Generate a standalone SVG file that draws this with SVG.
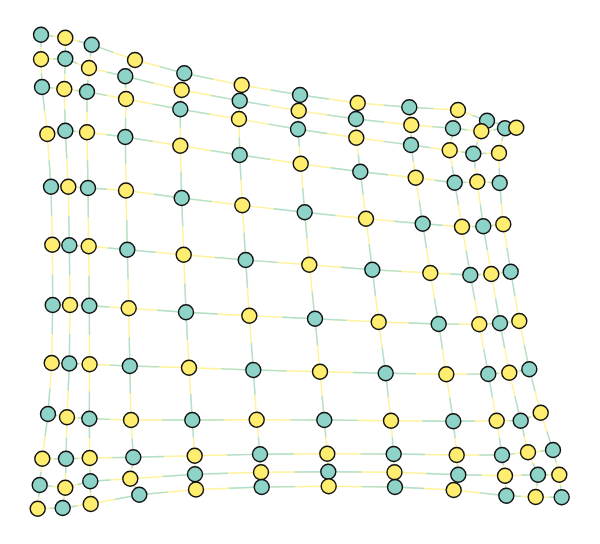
<svg xmlns="http://www.w3.org/2000/svg" width="600" height="544" viewBox="0 0 600 544">
<style>
.ey{fill:none;stroke:#fff29a;stroke-width:1.4;stroke-linejoin:round}
.et path{fill:none;stroke:#afe0d6;stroke-width:1.4;stroke-dasharray:1 1}
.t{fill:#8dd3c7;stroke:#111;stroke-width:1.4}
.y{fill:#ffed6f;stroke:#111;stroke-width:1.4}
</style>
<rect width="600" height="544" fill="#fff"/>
<g id="connectors">
<g id="base">
<polyline class="ey" points="41,34.7 65.3,37.7 91.7,44.7 135,60 184.3,73.3 241.7,85 300,95 357.7,103 409.3,107.3 458,110 487,120.7 516.3,127.7"/>
<polyline class="ey" points="41,59.3 65.3,58.7 89,68 125.3,76.3 181.7,90 239.7,100.7 298.7,110.7 356,119 411.3,125 453,128.3 481.3,131.3 505,128.3"/>
<polyline class="ey" points="42,87 64.3,89 87,91.7 126,99 180.3,109.3 239,119 298,129.3 356.3,137.7 411,145 449.7,150.3 473.3,153.7 499,153"/>
<polyline class="ey" points="47.3,134 65.3,130.7 87,132.3 125.3,137 180.3,145.7 239.7,155 300.7,163.7 360.3,171.7 415.7,177.7 454.7,182.7 477.3,181.7 499.7,183"/>
<polyline class="ey" points="51,186.7 68.3,186.7 88,188 126,190.5 181.7,198 242.3,205.3 304.7,212.3 366,218.7 422.7,223.7 462,226.7 483.3,226.3 503.3,224.3"/>
<polyline class="ey" points="52.3,244.7 69.3,245.3 88.7,246.3 127.3,249.7 183.7,254.7 245.7,260 309.3,264.7 372.3,269.7 430.3,273 470.3,275 491.3,274 510.7,271.7"/>
<polyline class="ey" points="52.7,305 70,305 89.3,305.7 128.7,308.3 186,312.3 249.3,315.7 315,318.7 378.7,322 438.7,324 479.3,324.3 500,323.3 519.3,321"/>
<polyline class="ey" points="51.7,363 69.3,363.5 89.6,364.3 129.8,366 189,367.8 253.3,370 320,371.7 385.7,373.3 446.3,374.3 488.3,374 509.3,372.7 529.3,369.3"/>
<polyline class="ey" points="48,414 67,417.3 89.3,418.7 131,420 192.3,420 256.7,419.7 324.3,420 391,420.7 453.3,421.3 496.7,420.7 520.7,420.7 540.7,412.7"/>
<polyline class="ey" points="42.3,458.7 66,458.7 89.7,458 133.3,457.3 194.7,455.7 260,454.3 327.3,453.7 393.7,454 456.7,455 502,455 528,452.3 553,450"/>
<polyline class="ey" points="39.7,485 65.3,487.7 90.3,481.3 130.3,478.7 195,474.3 261,472.3 328.3,471.7 394.5,472.2 458.3,474.7 505,475.7 538,474.7 559.3,474.7"/>
<polyline class="ey" points="37.7,508.7 62.7,508 90.7,504 139.3,494.7 196,489.5 261.7,487 328.7,486.3 395,487 453.7,490 506.3,495.7 535.7,497 561.7,497.3"/>
<polyline class="ey" points="41,34.7 41,59.3 42,87 47.3,134 51,186.7 52.3,244.7 52.7,305 51.7,363 48,414 42.3,458.7 39.7,485 37.7,508.7"/>
<polyline class="ey" points="65.3,37.7 65.3,58.7 64.3,89 65.3,130.7 68.3,186.7 69.3,245.3 70,305 69.3,363.5 67,417.3 66,458.7 65.3,487.7 62.7,508"/>
<polyline class="ey" points="91.7,44.7 89,68 87,91.7 87,132.3 88,188 88.7,246.3 89.3,305.7 89.6,364.3 89.3,418.7 89.7,458 90.3,481.3 90.7,504"/>
<polyline class="ey" points="135,60 125.3,76.3 126,99 125.3,137 126,190.5 127.3,249.7 128.7,308.3 129.8,366 131,420 133.3,457.3 130.3,478.7 139.3,494.7"/>
<polyline class="ey" points="184.3,73.3 181.7,90 180.3,109.3 180.3,145.7 181.7,198 183.7,254.7 186,312.3 189,367.8 192.3,420 194.7,455.7 195,474.3 196,489.5"/>
<polyline class="ey" points="241.7,85 239.7,100.7 239,119 239.7,155 242.3,205.3 245.7,260 249.3,315.7 253.3,370 256.7,419.7 260,454.3 261,472.3 261.7,487"/>
<polyline class="ey" points="300,95 298.7,110.7 298,129.3 300.7,163.7 304.7,212.3 309.3,264.7 315,318.7 320,371.7 324.3,420 327.3,453.7 328.3,471.7 328.7,486.3"/>
<polyline class="ey" points="357.7,103 356,119 356.3,137.7 360.3,171.7 366,218.7 372.3,269.7 378.7,322 385.7,373.3 391,420.7 393.7,454 394.5,472.2 395,487"/>
<polyline class="ey" points="409.3,107.3 411.3,125 411,145 415.7,177.7 422.7,223.7 430.3,273 438.7,324 446.3,374.3 453.3,421.3 456.7,455 458.3,474.7 453.7,490"/>
<polyline class="ey" points="458,110 453,128.3 449.7,150.3 454.7,182.7 462,226.7 470.3,275 479.3,324.3 488.3,374 496.7,420.7 502,455 505,475.7 506.3,495.7"/>
<polyline class="ey" points="487,120.7 481.3,131.3 473.3,153.7 477.3,181.7 483.3,226.3 491.3,274 500,323.3 509.3,372.7 520.7,420.7 528,452.3 538,474.7 535.7,497"/>
<polyline class="ey" points="516.3,127.7 505,128.3 499,153 499.7,183 503.3,224.3 510.7,271.7 519.3,321 529.3,369.3 540.7,412.7 553,450 559.3,474.7 561.7,497.3"/>
</g>
<g class="et" id="teal-halves">
<path pathLength="2" d="M41 34.7L65.3 37.7"/><path pathLength="2" d="M91.7 44.7L65.3 37.7"/><path pathLength="2" d="M91.7 44.7L135 60"/><path pathLength="2" d="M184.3 73.3L135 60"/><path pathLength="2" d="M184.3 73.3L241.7 85"/><path pathLength="2" d="M300 95L241.7 85"/><path pathLength="2" d="M300 95L357.7 103"/><path pathLength="2" d="M409.3 107.3L357.7 103"/><path pathLength="2" d="M409.3 107.3L458 110"/><path pathLength="2" d="M487 120.7L458 110"/><path pathLength="2" d="M487 120.7L516.3 127.7"/>
<path pathLength="2" d="M65.3 58.7L41 59.3"/><path pathLength="2" d="M65.3 58.7L89 68"/><path pathLength="2" d="M125.3 76.3L89 68"/><path pathLength="2" d="M125.3 76.3L181.7 90"/><path pathLength="2" d="M239.7 100.7L181.7 90"/><path pathLength="2" d="M239.7 100.7L298.7 110.7"/><path pathLength="2" d="M356 119L298.7 110.7"/><path pathLength="2" d="M356 119L411.3 125"/><path pathLength="2" d="M453 128.3L411.3 125"/><path pathLength="2" d="M453 128.3L481.3 131.3"/><path pathLength="2" d="M505 128.3L481.3 131.3"/>
<path pathLength="2" d="M42 87L64.3 89"/><path pathLength="2" d="M87 91.7L64.3 89"/><path pathLength="2" d="M87 91.7L126 99"/><path pathLength="2" d="M180.3 109.3L126 99"/><path pathLength="2" d="M180.3 109.3L239 119"/><path pathLength="2" d="M298 129.3L239 119"/><path pathLength="2" d="M298 129.3L356.3 137.7"/><path pathLength="2" d="M411 145L356.3 137.7"/><path pathLength="2" d="M411 145L449.7 150.3"/><path pathLength="2" d="M473.3 153.7L449.7 150.3"/><path pathLength="2" d="M473.3 153.7L499 153"/>
<path pathLength="2" d="M65.3 130.7L47.3 134"/><path pathLength="2" d="M65.3 130.7L87 132.3"/><path pathLength="2" d="M125.3 137L87 132.3"/><path pathLength="2" d="M125.3 137L180.3 145.7"/><path pathLength="2" d="M239.7 155L180.3 145.7"/><path pathLength="2" d="M239.7 155L300.7 163.7"/><path pathLength="2" d="M360.3 171.7L300.7 163.7"/><path pathLength="2" d="M360.3 171.7L415.7 177.7"/><path pathLength="2" d="M454.7 182.7L415.7 177.7"/><path pathLength="2" d="M454.7 182.7L477.3 181.7"/><path pathLength="2" d="M499.7 183L477.3 181.7"/>
<path pathLength="2" d="M51 186.7L68.3 186.7"/><path pathLength="2" d="M88 188L68.3 186.7"/><path pathLength="2" d="M88 188L126 190.5"/><path pathLength="2" d="M181.7 198L126 190.5"/><path pathLength="2" d="M181.7 198L242.3 205.3"/><path pathLength="2" d="M304.7 212.3L242.3 205.3"/><path pathLength="2" d="M304.7 212.3L366 218.7"/><path pathLength="2" d="M422.7 223.7L366 218.7"/><path pathLength="2" d="M422.7 223.7L462 226.7"/><path pathLength="2" d="M483.3 226.3L462 226.7"/><path pathLength="2" d="M483.3 226.3L503.3 224.3"/>
<path pathLength="2" d="M69.3 245.3L52.3 244.7"/><path pathLength="2" d="M69.3 245.3L88.7 246.3"/><path pathLength="2" d="M127.3 249.7L88.7 246.3"/><path pathLength="2" d="M127.3 249.7L183.7 254.7"/><path pathLength="2" d="M245.7 260L183.7 254.7"/><path pathLength="2" d="M245.7 260L309.3 264.7"/><path pathLength="2" d="M372.3 269.7L309.3 264.7"/><path pathLength="2" d="M372.3 269.7L430.3 273"/><path pathLength="2" d="M470.3 275L430.3 273"/><path pathLength="2" d="M470.3 275L491.3 274"/><path pathLength="2" d="M510.7 271.7L491.3 274"/>
<path pathLength="2" d="M52.7 305L70 305"/><path pathLength="2" d="M89.3 305.7L70 305"/><path pathLength="2" d="M89.3 305.7L128.7 308.3"/><path pathLength="2" d="M186 312.3L128.7 308.3"/><path pathLength="2" d="M186 312.3L249.3 315.7"/><path pathLength="2" d="M315 318.7L249.3 315.7"/><path pathLength="2" d="M315 318.7L378.7 322"/><path pathLength="2" d="M438.7 324L378.7 322"/><path pathLength="2" d="M438.7 324L479.3 324.3"/><path pathLength="2" d="M500 323.3L479.3 324.3"/><path pathLength="2" d="M500 323.3L519.3 321"/>
<path pathLength="2" d="M69.3 363.5L51.7 363"/><path pathLength="2" d="M69.3 363.5L89.6 364.3"/><path pathLength="2" d="M129.8 366L89.6 364.3"/><path pathLength="2" d="M129.8 366L189 367.8"/><path pathLength="2" d="M253.3 370L189 367.8"/><path pathLength="2" d="M253.3 370L320 371.7"/><path pathLength="2" d="M385.7 373.3L320 371.7"/><path pathLength="2" d="M385.7 373.3L446.3 374.3"/><path pathLength="2" d="M488.3 374L446.3 374.3"/><path pathLength="2" d="M488.3 374L509.3 372.7"/><path pathLength="2" d="M529.3 369.3L509.3 372.7"/>
<path pathLength="2" d="M48 414L67 417.3"/><path pathLength="2" d="M89.3 418.7L67 417.3"/><path pathLength="2" d="M89.3 418.7L131 420"/><path pathLength="2" d="M192.3 420L131 420"/><path pathLength="2" d="M192.3 420L256.7 419.7"/><path pathLength="2" d="M324.3 420L256.7 419.7"/><path pathLength="2" d="M324.3 420L391 420.7"/><path pathLength="2" d="M453.3 421.3L391 420.7"/><path pathLength="2" d="M453.3 421.3L496.7 420.7"/><path pathLength="2" d="M520.7 420.7L496.7 420.7"/><path pathLength="2" d="M520.7 420.7L540.7 412.7"/>
<path pathLength="2" d="M66 458.7L42.3 458.7"/><path pathLength="2" d="M66 458.7L89.7 458"/><path pathLength="2" d="M133.3 457.3L89.7 458"/><path pathLength="2" d="M133.3 457.3L194.7 455.7"/><path pathLength="2" d="M260 454.3L194.7 455.7"/><path pathLength="2" d="M260 454.3L327.3 453.7"/><path pathLength="2" d="M393.7 454L327.3 453.7"/><path pathLength="2" d="M393.7 454L456.7 455"/><path pathLength="2" d="M502 455L456.7 455"/><path pathLength="2" d="M502 455L528 452.3"/><path pathLength="2" d="M553 450L528 452.3"/>
<path pathLength="2" d="M39.7 485L65.3 487.7"/><path pathLength="2" d="M90.3 481.3L65.3 487.7"/><path pathLength="2" d="M90.3 481.3L130.3 478.7"/><path pathLength="2" d="M195 474.3L130.3 478.7"/><path pathLength="2" d="M195 474.3L261 472.3"/><path pathLength="2" d="M328.3 471.7L261 472.3"/><path pathLength="2" d="M328.3 471.7L394.5 472.2"/><path pathLength="2" d="M458.3 474.7L394.5 472.2"/><path pathLength="2" d="M458.3 474.7L505 475.7"/><path pathLength="2" d="M538 474.7L505 475.7"/><path pathLength="2" d="M538 474.7L559.3 474.7"/>
<path pathLength="2" d="M62.7 508L37.7 508.7"/><path pathLength="2" d="M62.7 508L90.7 504"/><path pathLength="2" d="M139.3 494.7L90.7 504"/><path pathLength="2" d="M139.3 494.7L196 489.5"/><path pathLength="2" d="M261.7 487L196 489.5"/><path pathLength="2" d="M261.7 487L328.7 486.3"/><path pathLength="2" d="M395 487L328.7 486.3"/><path pathLength="2" d="M395 487L453.7 490"/><path pathLength="2" d="M506.3 495.7L453.7 490"/><path pathLength="2" d="M506.3 495.7L535.7 497"/><path pathLength="2" d="M561.7 497.3L535.7 497"/>
<path pathLength="2" d="M41 34.7L41 59.3"/><path pathLength="2" d="M42 87L41 59.3"/><path pathLength="2" d="M42 87L47.3 134"/><path pathLength="2" d="M51 186.7L47.3 134"/><path pathLength="2" d="M51 186.7L52.3 244.7"/><path pathLength="2" d="M52.7 305L52.3 244.7"/><path pathLength="2" d="M52.7 305L51.7 363"/><path pathLength="2" d="M48 414L51.7 363"/><path pathLength="2" d="M48 414L42.3 458.7"/><path pathLength="2" d="M39.7 485L42.3 458.7"/><path pathLength="2" d="M39.7 485L37.7 508.7"/>
<path pathLength="2" d="M65.3 58.7L65.3 37.7"/><path pathLength="2" d="M65.3 58.7L64.3 89"/><path pathLength="2" d="M65.3 130.7L64.3 89"/><path pathLength="2" d="M65.3 130.7L68.3 186.7"/><path pathLength="2" d="M69.3 245.3L68.3 186.7"/><path pathLength="2" d="M69.3 245.3L70 305"/><path pathLength="2" d="M69.3 363.5L70 305"/><path pathLength="2" d="M69.3 363.5L67 417.3"/><path pathLength="2" d="M66 458.7L67 417.3"/><path pathLength="2" d="M66 458.7L65.3 487.7"/><path pathLength="2" d="M62.7 508L65.3 487.7"/>
<path pathLength="2" d="M91.7 44.7L89 68"/><path pathLength="2" d="M87 91.7L89 68"/><path pathLength="2" d="M87 91.7L87 132.3"/><path pathLength="2" d="M88 188L87 132.3"/><path pathLength="2" d="M88 188L88.7 246.3"/><path pathLength="2" d="M89.3 305.7L88.7 246.3"/><path pathLength="2" d="M89.3 305.7L89.6 364.3"/><path pathLength="2" d="M89.3 418.7L89.6 364.3"/><path pathLength="2" d="M89.3 418.7L89.7 458"/><path pathLength="2" d="M90.3 481.3L89.7 458"/><path pathLength="2" d="M90.3 481.3L90.7 504"/>
<path pathLength="2" d="M125.3 76.3L135 60"/><path pathLength="2" d="M125.3 76.3L126 99"/><path pathLength="2" d="M125.3 137L126 99"/><path pathLength="2" d="M125.3 137L126 190.5"/><path pathLength="2" d="M127.3 249.7L126 190.5"/><path pathLength="2" d="M127.3 249.7L128.7 308.3"/><path pathLength="2" d="M129.8 366L128.7 308.3"/><path pathLength="2" d="M129.8 366L131 420"/><path pathLength="2" d="M133.3 457.3L131 420"/><path pathLength="2" d="M133.3 457.3L130.3 478.7"/><path pathLength="2" d="M139.3 494.7L130.3 478.7"/>
<path pathLength="2" d="M184.3 73.3L181.7 90"/><path pathLength="2" d="M180.3 109.3L181.7 90"/><path pathLength="2" d="M180.3 109.3L180.3 145.7"/><path pathLength="2" d="M181.7 198L180.3 145.7"/><path pathLength="2" d="M181.7 198L183.7 254.7"/><path pathLength="2" d="M186 312.3L183.7 254.7"/><path pathLength="2" d="M186 312.3L189 367.8"/><path pathLength="2" d="M192.3 420L189 367.8"/><path pathLength="2" d="M192.3 420L194.7 455.7"/><path pathLength="2" d="M195 474.3L194.7 455.7"/><path pathLength="2" d="M195 474.3L196 489.5"/>
<path pathLength="2" d="M239.7 100.7L241.7 85"/><path pathLength="2" d="M239.7 100.7L239 119"/><path pathLength="2" d="M239.7 155L239 119"/><path pathLength="2" d="M239.7 155L242.3 205.3"/><path pathLength="2" d="M245.7 260L242.3 205.3"/><path pathLength="2" d="M245.7 260L249.3 315.7"/><path pathLength="2" d="M253.3 370L249.3 315.7"/><path pathLength="2" d="M253.3 370L256.7 419.7"/><path pathLength="2" d="M260 454.3L256.7 419.7"/><path pathLength="2" d="M260 454.3L261 472.3"/><path pathLength="2" d="M261.7 487L261 472.3"/>
<path pathLength="2" d="M300 95L298.7 110.7"/><path pathLength="2" d="M298 129.3L298.7 110.7"/><path pathLength="2" d="M298 129.3L300.7 163.7"/><path pathLength="2" d="M304.7 212.3L300.7 163.7"/><path pathLength="2" d="M304.7 212.3L309.3 264.7"/><path pathLength="2" d="M315 318.7L309.3 264.7"/><path pathLength="2" d="M315 318.7L320 371.7"/><path pathLength="2" d="M324.3 420L320 371.7"/><path pathLength="2" d="M324.3 420L327.3 453.7"/><path pathLength="2" d="M328.3 471.7L327.3 453.7"/><path pathLength="2" d="M328.3 471.7L328.7 486.3"/>
<path pathLength="2" d="M356 119L357.7 103"/><path pathLength="2" d="M356 119L356.3 137.7"/><path pathLength="2" d="M360.3 171.7L356.3 137.7"/><path pathLength="2" d="M360.3 171.7L366 218.7"/><path pathLength="2" d="M372.3 269.7L366 218.7"/><path pathLength="2" d="M372.3 269.7L378.7 322"/><path pathLength="2" d="M385.7 373.3L378.7 322"/><path pathLength="2" d="M385.7 373.3L391 420.7"/><path pathLength="2" d="M393.7 454L391 420.7"/><path pathLength="2" d="M393.7 454L394.5 472.2"/><path pathLength="2" d="M395 487L394.5 472.2"/>
<path pathLength="2" d="M409.3 107.3L411.3 125"/><path pathLength="2" d="M411 145L411.3 125"/><path pathLength="2" d="M411 145L415.7 177.7"/><path pathLength="2" d="M422.7 223.7L415.7 177.7"/><path pathLength="2" d="M422.7 223.7L430.3 273"/><path pathLength="2" d="M438.7 324L430.3 273"/><path pathLength="2" d="M438.7 324L446.3 374.3"/><path pathLength="2" d="M453.3 421.3L446.3 374.3"/><path pathLength="2" d="M453.3 421.3L456.7 455"/><path pathLength="2" d="M458.3 474.7L456.7 455"/><path pathLength="2" d="M458.3 474.7L453.7 490"/>
<path pathLength="2" d="M453 128.3L458 110"/><path pathLength="2" d="M453 128.3L449.7 150.3"/><path pathLength="2" d="M454.7 182.7L449.7 150.3"/><path pathLength="2" d="M454.7 182.7L462 226.7"/><path pathLength="2" d="M470.3 275L462 226.7"/><path pathLength="2" d="M470.3 275L479.3 324.3"/><path pathLength="2" d="M488.3 374L479.3 324.3"/><path pathLength="2" d="M488.3 374L496.7 420.7"/><path pathLength="2" d="M502 455L496.7 420.7"/><path pathLength="2" d="M502 455L505 475.7"/><path pathLength="2" d="M506.3 495.7L505 475.7"/>
<path pathLength="2" d="M487 120.7L481.3 131.3"/><path pathLength="2" d="M473.3 153.7L481.3 131.3"/><path pathLength="2" d="M473.3 153.7L477.3 181.7"/><path pathLength="2" d="M483.3 226.3L477.3 181.7"/><path pathLength="2" d="M483.3 226.3L491.3 274"/><path pathLength="2" d="M500 323.3L491.3 274"/><path pathLength="2" d="M500 323.3L509.3 372.7"/><path pathLength="2" d="M520.7 420.7L509.3 372.7"/><path pathLength="2" d="M520.7 420.7L528 452.3"/><path pathLength="2" d="M538 474.7L528 452.3"/><path pathLength="2" d="M538 474.7L535.7 497"/>
<path pathLength="2" d="M505 128.3L516.3 127.7"/><path pathLength="2" d="M505 128.3L499 153"/><path pathLength="2" d="M499.7 183L499 153"/><path pathLength="2" d="M499.7 183L503.3 224.3"/><path pathLength="2" d="M510.7 271.7L503.3 224.3"/><path pathLength="2" d="M510.7 271.7L519.3 321"/><path pathLength="2" d="M529.3 369.3L519.3 321"/><path pathLength="2" d="M529.3 369.3L540.7 412.7"/><path pathLength="2" d="M553 450L540.7 412.7"/><path pathLength="2" d="M553 450L559.3 474.7"/><path pathLength="2" d="M561.7 497.3L559.3 474.7"/>
</g>
</g>
<g id="nodes">
<g id="n1_1"><circle class="t" cx="41" cy="34.7" r="7.5"/></g><g id="n1_2"><circle class="y" cx="65.3" cy="37.7" r="7.5"/></g><g id="n1_3"><circle class="t" cx="91.7" cy="44.7" r="7.5"/></g><g id="n1_4"><circle class="y" cx="135" cy="60" r="7.5"/></g><g id="n1_5"><circle class="t" cx="184.3" cy="73.3" r="7.5"/></g><g id="n1_6"><circle class="y" cx="241.7" cy="85" r="7.5"/></g><g id="n1_7"><circle class="t" cx="300" cy="95" r="7.5"/></g><g id="n1_8"><circle class="y" cx="357.7" cy="103" r="7.5"/></g><g id="n1_9"><circle class="t" cx="409.3" cy="107.3" r="7.5"/></g><g id="n1_10"><circle class="y" cx="458" cy="110" r="7.5"/></g><g id="n1_11"><circle class="t" cx="487" cy="120.7" r="7.5"/></g><g id="n2_12"><circle class="t" cx="505" cy="128.3" r="7.5"/></g><g id="n1_12"><circle class="y" cx="516.3" cy="127.7" r="7.5"/></g>
<g id="n2_1"><circle class="y" cx="41" cy="59.3" r="7.5"/></g><g id="n2_2"><circle class="t" cx="65.3" cy="58.7" r="7.5"/></g><g id="n2_3"><circle class="y" cx="89" cy="68" r="7.5"/></g><g id="n2_4"><circle class="t" cx="125.3" cy="76.3" r="7.5"/></g><g id="n2_5"><circle class="y" cx="181.7" cy="90" r="7.5"/></g><g id="n2_6"><circle class="t" cx="239.7" cy="100.7" r="7.5"/></g><g id="n2_7"><circle class="y" cx="298.7" cy="110.7" r="7.5"/></g><g id="n2_8"><circle class="t" cx="356" cy="119" r="7.5"/></g><g id="n2_9"><circle class="y" cx="411.3" cy="125" r="7.5"/></g><g id="n2_10"><circle class="t" cx="453" cy="128.3" r="7.5"/></g><g id="n2_11"><circle class="y" cx="481.3" cy="131.3" r="7.5"/></g>
<g id="n3_1"><circle class="t" cx="42" cy="87" r="7.5"/></g><g id="n3_2"><circle class="y" cx="64.3" cy="89" r="7.5"/></g><g id="n3_3"><circle class="t" cx="87" cy="91.7" r="7.5"/></g><g id="n3_4"><circle class="y" cx="126" cy="99" r="7.5"/></g><g id="n3_5"><circle class="t" cx="180.3" cy="109.3" r="7.5"/></g><g id="n3_6"><circle class="y" cx="239" cy="119" r="7.5"/></g><g id="n3_7"><circle class="t" cx="298" cy="129.3" r="7.5"/></g><g id="n3_8"><circle class="y" cx="356.3" cy="137.7" r="7.5"/></g><g id="n3_9"><circle class="t" cx="411" cy="145" r="7.5"/></g><g id="n3_10"><circle class="y" cx="449.7" cy="150.3" r="7.5"/></g><g id="n3_11"><circle class="t" cx="473.3" cy="153.7" r="7.5"/></g><g id="n3_12"><circle class="y" cx="499" cy="153" r="7.5"/></g>
<g id="n4_1"><circle class="y" cx="47.3" cy="134" r="7.5"/></g><g id="n4_2"><circle class="t" cx="65.3" cy="130.7" r="7.5"/></g><g id="n4_3"><circle class="y" cx="87" cy="132.3" r="7.5"/></g><g id="n4_4"><circle class="t" cx="125.3" cy="137" r="7.5"/></g><g id="n4_5"><circle class="y" cx="180.3" cy="145.7" r="7.5"/></g><g id="n4_6"><circle class="t" cx="239.7" cy="155" r="7.5"/></g><g id="n4_7"><circle class="y" cx="300.7" cy="163.7" r="7.5"/></g><g id="n4_8"><circle class="t" cx="360.3" cy="171.7" r="7.5"/></g><g id="n4_9"><circle class="y" cx="415.7" cy="177.7" r="7.5"/></g><g id="n4_10"><circle class="t" cx="454.7" cy="182.7" r="7.5"/></g><g id="n4_11"><circle class="y" cx="477.3" cy="181.7" r="7.5"/></g><g id="n4_12"><circle class="t" cx="499.7" cy="183" r="7.5"/></g>
<g id="n5_1"><circle class="t" cx="51" cy="186.7" r="7.5"/></g><g id="n5_2"><circle class="y" cx="68.3" cy="186.7" r="7.5"/></g><g id="n5_3"><circle class="t" cx="88" cy="188" r="7.5"/></g><g id="n5_4"><circle class="y" cx="126" cy="190.5" r="7.5"/></g><g id="n5_5"><circle class="t" cx="181.7" cy="198" r="7.5"/></g><g id="n5_6"><circle class="y" cx="242.3" cy="205.3" r="7.5"/></g><g id="n5_7"><circle class="t" cx="304.7" cy="212.3" r="7.5"/></g><g id="n5_8"><circle class="y" cx="366" cy="218.7" r="7.5"/></g><g id="n5_9"><circle class="t" cx="422.7" cy="223.7" r="7.5"/></g><g id="n5_10"><circle class="y" cx="462" cy="226.7" r="7.5"/></g><g id="n5_11"><circle class="t" cx="483.3" cy="226.3" r="7.5"/></g><g id="n5_12"><circle class="y" cx="503.3" cy="224.3" r="7.5"/></g>
<g id="n6_1"><circle class="y" cx="52.3" cy="244.7" r="7.5"/></g><g id="n6_2"><circle class="t" cx="69.3" cy="245.3" r="7.5"/></g><g id="n6_3"><circle class="y" cx="88.7" cy="246.3" r="7.5"/></g><g id="n6_4"><circle class="t" cx="127.3" cy="249.7" r="7.5"/></g><g id="n6_5"><circle class="y" cx="183.7" cy="254.7" r="7.5"/></g><g id="n6_6"><circle class="t" cx="245.7" cy="260" r="7.5"/></g><g id="n6_7"><circle class="y" cx="309.3" cy="264.7" r="7.5"/></g><g id="n6_8"><circle class="t" cx="372.3" cy="269.7" r="7.5"/></g><g id="n6_9"><circle class="y" cx="430.3" cy="273" r="7.5"/></g><g id="n6_10"><circle class="t" cx="470.3" cy="275" r="7.5"/></g><g id="n6_11"><circle class="y" cx="491.3" cy="274" r="7.5"/></g><g id="n6_12"><circle class="t" cx="510.7" cy="271.7" r="7.5"/></g>
<g id="n7_1"><circle class="t" cx="52.7" cy="305" r="7.5"/></g><g id="n7_2"><circle class="y" cx="70" cy="305" r="7.5"/></g><g id="n7_3"><circle class="t" cx="89.3" cy="305.7" r="7.5"/></g><g id="n7_4"><circle class="y" cx="128.7" cy="308.3" r="7.5"/></g><g id="n7_5"><circle class="t" cx="186" cy="312.3" r="7.5"/></g><g id="n7_6"><circle class="y" cx="249.3" cy="315.7" r="7.5"/></g><g id="n7_7"><circle class="t" cx="315" cy="318.7" r="7.5"/></g><g id="n7_8"><circle class="y" cx="378.7" cy="322" r="7.5"/></g><g id="n7_9"><circle class="t" cx="438.7" cy="324" r="7.5"/></g><g id="n7_10"><circle class="y" cx="479.3" cy="324.3" r="7.5"/></g><g id="n7_11"><circle class="t" cx="500" cy="323.3" r="7.5"/></g><g id="n7_12"><circle class="y" cx="519.3" cy="321" r="7.5"/></g>
<g id="n8_1"><circle class="y" cx="51.7" cy="363" r="7.5"/></g><g id="n8_2"><circle class="t" cx="69.3" cy="363.5" r="7.5"/></g><g id="n8_3"><circle class="y" cx="89.6" cy="364.3" r="7.5"/></g><g id="n8_4"><circle class="t" cx="129.8" cy="366" r="7.5"/></g><g id="n8_5"><circle class="y" cx="189" cy="367.8" r="7.5"/></g><g id="n8_6"><circle class="t" cx="253.3" cy="370" r="7.5"/></g><g id="n8_7"><circle class="y" cx="320" cy="371.7" r="7.5"/></g><g id="n8_8"><circle class="t" cx="385.7" cy="373.3" r="7.5"/></g><g id="n8_9"><circle class="y" cx="446.3" cy="374.3" r="7.5"/></g><g id="n8_10"><circle class="t" cx="488.3" cy="374" r="7.5"/></g><g id="n8_11"><circle class="y" cx="509.3" cy="372.7" r="7.5"/></g><g id="n8_12"><circle class="t" cx="529.3" cy="369.3" r="7.5"/></g>
<g id="n9_1"><circle class="t" cx="48" cy="414" r="7.5"/></g><g id="n9_2"><circle class="y" cx="67" cy="417.3" r="7.5"/></g><g id="n9_3"><circle class="t" cx="89.3" cy="418.7" r="7.5"/></g><g id="n9_4"><circle class="y" cx="131" cy="420" r="7.5"/></g><g id="n9_5"><circle class="t" cx="192.3" cy="420" r="7.5"/></g><g id="n9_6"><circle class="y" cx="256.7" cy="419.7" r="7.5"/></g><g id="n9_7"><circle class="t" cx="324.3" cy="420" r="7.5"/></g><g id="n9_8"><circle class="y" cx="391" cy="420.7" r="7.5"/></g><g id="n9_9"><circle class="t" cx="453.3" cy="421.3" r="7.5"/></g><g id="n9_10"><circle class="y" cx="496.7" cy="420.7" r="7.5"/></g><g id="n9_11"><circle class="t" cx="520.7" cy="420.7" r="7.5"/></g><g id="n9_12"><circle class="y" cx="540.7" cy="412.7" r="7.5"/></g>
<g id="n10_1"><circle class="y" cx="42.3" cy="458.7" r="7.5"/></g><g id="n10_2"><circle class="t" cx="66" cy="458.7" r="7.5"/></g><g id="n10_3"><circle class="y" cx="89.7" cy="458" r="7.5"/></g><g id="n10_4"><circle class="t" cx="133.3" cy="457.3" r="7.5"/></g><g id="n10_5"><circle class="y" cx="194.7" cy="455.7" r="7.5"/></g><g id="n10_6"><circle class="t" cx="260" cy="454.3" r="7.5"/></g><g id="n10_7"><circle class="y" cx="327.3" cy="453.7" r="7.5"/></g><g id="n10_8"><circle class="t" cx="393.7" cy="454" r="7.5"/></g><g id="n10_9"><circle class="y" cx="456.7" cy="455" r="7.5"/></g><g id="n10_10"><circle class="t" cx="502" cy="455" r="7.5"/></g><g id="n10_11"><circle class="y" cx="528" cy="452.3" r="7.5"/></g><g id="n10_12"><circle class="t" cx="553" cy="450" r="7.5"/></g>
<g id="n11_1"><circle class="t" cx="39.7" cy="485" r="7.5"/></g><g id="n11_2"><circle class="y" cx="65.3" cy="487.7" r="7.5"/></g><g id="n11_3"><circle class="t" cx="90.3" cy="481.3" r="7.5"/></g><g id="n11_4"><circle class="y" cx="130.3" cy="478.7" r="7.5"/></g><g id="n11_5"><circle class="t" cx="195" cy="474.3" r="7.5"/></g><g id="n11_6"><circle class="y" cx="261" cy="472.3" r="7.5"/></g><g id="n11_7"><circle class="t" cx="328.3" cy="471.7" r="7.5"/></g><g id="n11_8"><circle class="y" cx="394.5" cy="472.2" r="7.5"/></g><g id="n11_9"><circle class="t" cx="458.3" cy="474.7" r="7.5"/></g><g id="n11_10"><circle class="y" cx="505" cy="475.7" r="7.5"/></g><g id="n11_11"><circle class="t" cx="538" cy="474.7" r="7.5"/></g><g id="n11_12"><circle class="y" cx="559.3" cy="474.7" r="7.5"/></g>
<g id="n12_1"><circle class="y" cx="37.7" cy="508.7" r="7.5"/></g><g id="n12_2"><circle class="t" cx="62.7" cy="508" r="7.5"/></g><g id="n12_3"><circle class="y" cx="90.7" cy="504" r="7.5"/></g><g id="n12_4"><circle class="t" cx="139.3" cy="494.7" r="7.5"/></g><g id="n12_5"><circle class="y" cx="196" cy="489.5" r="7.5"/></g><g id="n12_6"><circle class="t" cx="261.7" cy="487" r="7.5"/></g><g id="n12_7"><circle class="y" cx="328.7" cy="486.3" r="7.5"/></g><g id="n12_8"><circle class="t" cx="395" cy="487" r="7.5"/></g><g id="n12_9"><circle class="y" cx="453.7" cy="490" r="7.5"/></g><g id="n12_10"><circle class="t" cx="506.3" cy="495.7" r="7.5"/></g><g id="n12_11"><circle class="y" cx="535.7" cy="497" r="7.5"/></g><g id="n12_12"><circle class="t" cx="561.7" cy="497.3" r="7.5"/></g>
</g>
</svg>
